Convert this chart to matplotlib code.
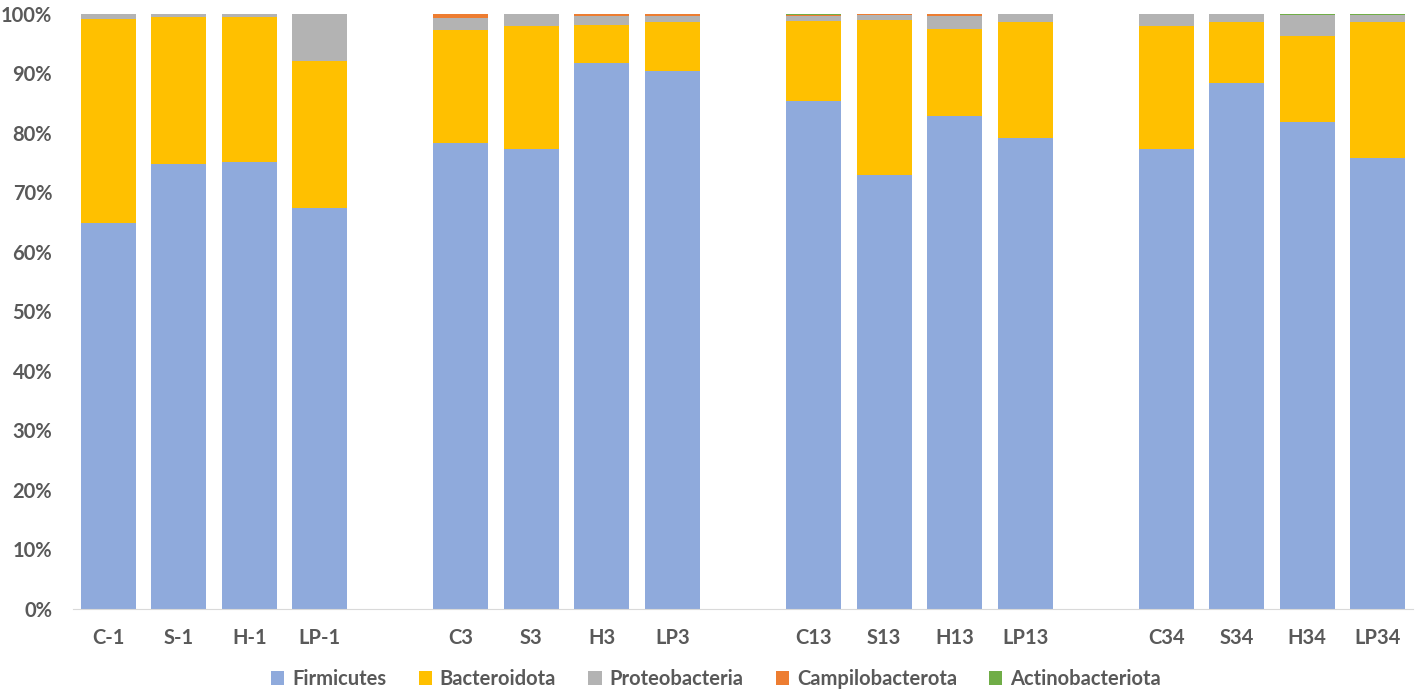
import numpy as np
import matplotlib.pyplot as plt

samples = ["C-1", "S-1", "H-1", "LP-1",
           "C3", "S3", "H3", "LP3",
           "C13", "S13", "H13", "LP13",
           "C34", "S34", "H34", "LP34"]

# relative abundance (%)
firmicutes = [64.9, 74.8, 75.1, 67.4,
              78.3, 77.3, 91.8, 90.4,
              85.4, 72.9, 82.9, 79.2,
              77.3, 88.4, 81.8, 75.8]
bacteroidota = [34.2, 24.6, 24.4, 24.7,
                19.0, 20.6, 6.4, 8.3,
                13.4, 26.1, 14.6, 19.5,
                20.6, 10.2, 14.5, 22.8]
proteobacteria = [0.9, 0.6, 0.5, 7.9,
                  2.0, 2.1, 1.5, 1.0,
                  0.9, 0.8, 2.2, 1.3,
                  2.1, 1.4, 3.5, 1.3]
campilobacterota = [0.0, 0.0, 0.0, 0.0,
                    0.7, 0.0, 0.3, 0.3,
                    0.2, 0.2, 0.3, 0.0,
                    0.0, 0.0, 0.0, 0.0]
actinobacteriota = [0.0, 0.0, 0.0, 0.0,
                    0.0, 0.0, 0.0, 0.0,
                    0.1, 0.0, 0.0, 0.0,
                    0.05, 0.0, 0.2, 0.1]

phyla = ["Firmicutes", "Bacteroidota", "Proteobacteria",
         "Campilobacterota", "Actinobacteriota"]
colors = ["#8FAADC", "#FFC000", "#B3B3B3", "#ED7D31", "#70AD47"]

text_color = "#595959"
plt.rcParams['font.family'] = ['Lato', 'DejaVu Sans']
plt.rcParams['font.weight'] = 'bold'

# four groups of four samples with one empty slot between groups
pos = []
for i in range(len(samples)):
    pos.append(i + i // 4)
pos = np.array(pos)

fig = plt.figure(figsize=(14.18, 6.96), dpi=100)
ax = fig.add_axes([0.0515, 0.125, 0.945, 0.855])

data = [firmicutes, bacteroidota, proteobacteria, campilobacterota, actinobacteriota]
bottom = np.zeros(len(samples))
for name, vals, c in zip(phyla, data, colors):
    vals = np.array(vals)
    ax.bar(pos, vals, bottom=bottom, width=0.78, color=c, label=name)
    bottom += vals

ax.set_xlim(-0.5, pos[-1] + 0.5)
ax.set_ylim(0, 100)
ax.set_yticks(np.arange(0, 101, 10))
ax.set_yticklabels([f"{v}%" for v in range(0, 101, 10)])
ax.set_xticks(pos)
ax.set_xticklabels(samples)

for s in ["top", "right", "left"]:
    ax.spines[s].set_visible(False)
ax.spines["bottom"].set_color("#D9D9D9")
ax.tick_params(axis="both", length=0, colors=text_color, labelsize=14.5)
ax.tick_params(axis="x", pad=14)
ax.tick_params(axis="y", pad=15)

leg = ax.legend(loc="center", bbox_to_anchor=(0.48, -0.118), ncol=5,
                frameon=False, fontsize=14.5, handlelength=0.65, handleheight=0.65,
                handletextpad=0.4, columnspacing=1.6, borderaxespad=0)
for t in leg.get_texts():
    t.set_color(text_color)

fig.savefig("out.png", dpi=100)
